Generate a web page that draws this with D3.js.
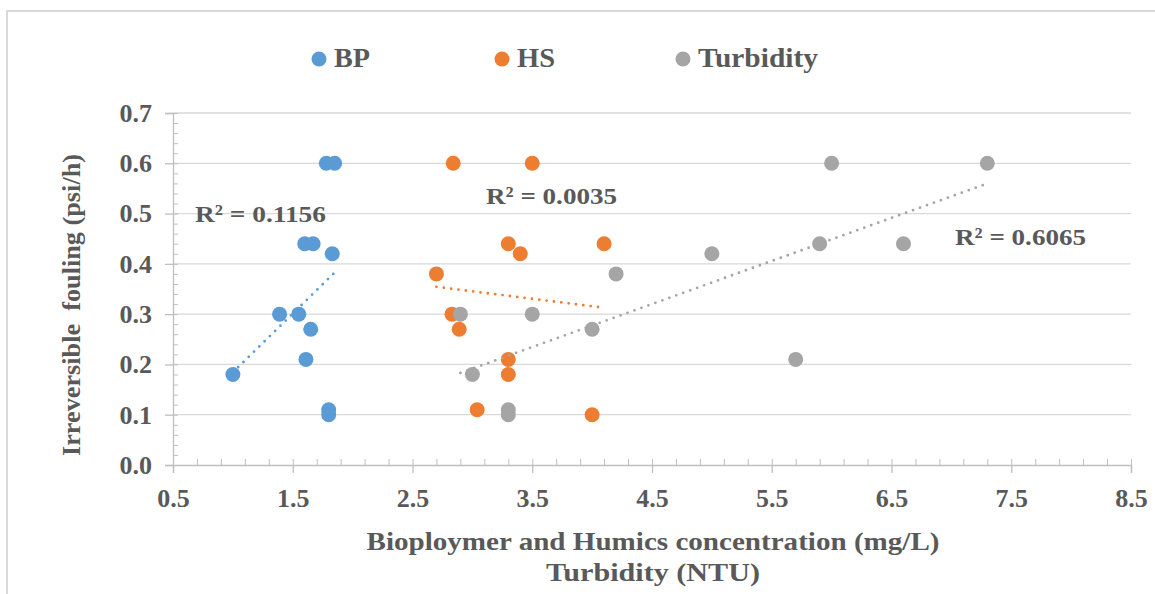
<!DOCTYPE html>
<html>
<head>
<meta charset="utf-8">
<script src="https://cdn.jsdelivr.net/npm/d3@7"></script>
<style>
  html, body { margin: 0; padding: 0; background: #ffffff; }
</style>
</head>
<body>
<svg id="chart" width="1155" height="594"></svg>
<script>
// Series: x = concentration (mg/L) or turbidity (NTU), y = irreversible fouling (psi/h)
const bpX = [1.78, 1.85, 1.60, 1.67, 1.83, 1.39, 1.55, 1.65, 1.61, 1.00, 1.80, 1.80];
const bpY = [0.60, 0.60, 0.44, 0.44, 0.42, 0.30, 0.30, 0.27, 0.21, 0.18, 0.11, 0.10];

const hsX = [2.84, 3.50, 3.30, 3.40, 4.10, 2.70, 2.83, 2.89, 3.30, 3.30, 3.04, 4.00];
const hsY = [0.60, 0.60, 0.44, 0.42, 0.44, 0.38, 0.30, 0.27, 0.21, 0.18, 0.11, 0.10];

const turbX = [2.9, 3.5, 4.2, 4.0, 3.0, 3.3, 3.3, 5.0, 5.7, 5.9, 6.6, 6.0, 7.3];
const turbY = [0.30, 0.30, 0.38, 0.27, 0.18, 0.11, 0.10, 0.42, 0.21, 0.44, 0.44, 0.60, 0.60];

const seriesNames = ["BP", "HS", "Turbidity"];
const seriesColors = ["#5B9BD5", "#ED7D31", "#A5A5A5"];
const rSquaredLabels = ["R² = 0.1156", "R² = 0.0035", "R² = 0.6065"];

const xTicks = [0.5, 1.5, 2.5, 3.5, 4.5, 5.5, 6.5, 7.5, 8.5];
const yTicks = [0.0, 0.1, 0.2, 0.3, 0.4, 0.5, 0.6, 0.7];

const xTitleLines = ["Bioploymer and Humics concentration (mg/L)", "Turbidity (NTU)"];
const yTitle = "Irreversible  fouling (psi/h)";

const FONT = "'Liberation Serif'";
const TEXT_COLOR = "#595959";
const svg = d3.select("#chart");

function styleText(sel, size) {
  return sel
    .style("font-family", FONT)
    .style("font-weight", "bold")
    .style("font-size", size + "px")
    .attr("fill", TEXT_COLOR);
}

// Chart frame
svg.append("path")
  .attr("d", "M7,600 L7,11 L1160,11")
  .attr("fill", "none")
  .attr("stroke", "#d9d9d9")
  .attr("stroke-width", 2);

const x = d3.scaleLinear().domain([0.5, 8.5]).range([173, 1131]);
const y = d3.scaleLinear().domain([0, 0.7]).range([465, 113]);

// Horizontal gridlines
svg.append("g")
  .selectAll("line")
  .data(yTicks.filter(v => v > 0))
  .join("line")
  .attr("x1", x(0.5)).attr("x2", x(8.5))
  .attr("y1", d => y(d)).attr("y2", d => y(d))
  .attr("stroke", "#d9d9d9")
  .attr("stroke-width", 1.3);

const axisColor = "#bfbfbf";

// Minor ticks: y every 0.02 (to the right), x every 0.2 (upward)
const yMinor = d3.range(0, 0.7001, 0.02);
const xMinor = d3.range(0.5, 8.5001, 0.2);
const yMinorAxis = svg.append("g")
  .attr("transform", `translate(${x(0.5)},0)`)
  .call(d3.axisRight(y).tickValues(yMinor).tickSize(5).tickFormat(""));
const xMinorAxis = svg.append("g")
  .attr("transform", `translate(0,${y(0)})`)
  .call(d3.axisTop(x).tickValues(xMinor).tickSize(6).tickFormat(""));
[yMinorAxis, xMinorAxis].forEach(g => {
  g.select(".domain").remove();
  g.selectAll("line").attr("stroke", axisColor);
});

// Major axes
const yAxis = svg.append("g")
  .attr("transform", `translate(${x(0.5)},0)`)
  .call(d3.axisLeft(y).tickValues(yTicks).tickFormat(d3.format(".1f")).tickSize(8).tickPadding(13));
const xAxis = svg.append("g")
  .attr("transform", `translate(0,${y(0)})`)
  .call(d3.axisBottom(x).tickValues(xTicks).tickFormat(d3.format(".1f")).tickSize(8).tickPadding(16));
[yAxis, xAxis].forEach(g => {
  g.attr("font-family", null);
  g.select(".domain").attr("stroke", axisColor).attr("stroke-width", 1.3);
  g.selectAll(".tick line").attr("stroke", axisColor).attr("stroke-width", 1.3);
  styleText(g.selectAll(".tick text"), 26);
});

// Markers
const series = [
  { xs: bpX, ys: bpY },
  { xs: hsX, ys: hsY },
  { xs: turbX, ys: turbY }
];
series.forEach((s, i) => {
  svg.append("g")
    .selectAll("circle")
    .data(s.xs.map((v, k) => [v, s.ys[k]]))
    .join("circle")
    .attr("cx", d => x(d[0]))
    .attr("cy", d => y(d[1]))
    .attr("r", 7.5)
    .attr("fill", seriesColors[i]);
});

// Linear least-squares trendlines (dotted), spanning each series' x range
function fit(xs, ys) {
  const mx = d3.mean(xs), my = d3.mean(ys);
  let sxy = 0, sxx = 0;
  xs.forEach((v, k) => { sxy += (v - mx) * (ys[k] - my); sxx += (v - mx) * (v - mx); });
  const b = sxy / sxx;
  return v => my + b * (v - mx);
}
series.forEach((s, i) => {
  const f = fit(s.xs, s.ys);
  const [x0, x1] = d3.extent(s.xs);
  svg.append("line")
    .attr("x1", x(x0)).attr("y1", y(f(x0)))
    .attr("x2", x(x1)).attr("y2", y(f(x1)))
    .attr("stroke", seriesColors[i])
    .attr("stroke-width", 2.8)
    .attr("stroke-linecap", "round")
    .attr("stroke-dasharray", "0 7.4");
});

// R² labels
const rPos = [[195, 222], [486, 204], [955, 245]];
styleText(svg.append("g")
  .selectAll("text")
  .data(rSquaredLabels)
  .join("text")
  .attr("x", (d, i) => rPos[i][0])
  .attr("y", (d, i) => rPos[i][1])
  .attr("textLength", 131)
  .attr("lengthAdjust", "spacingAndGlyphs")
  .text(d => d), 24);

// Legend
const legendX = [319, 502, 683];
const legendWidths = [36, 38, 120];
const legend = svg.append("g");
seriesNames.forEach((name, i) => {
  legend.append("circle")
    .attr("cx", legendX[i]).attr("cy", 59).attr("r", 7.5)
    .attr("fill", seriesColors[i]);
  styleText(legend.append("text")
    .attr("x", legendX[i] + 15).attr("y", 67)
    .attr("textLength", legendWidths[i])
    .attr("lengthAdjust", "spacingAndGlyphs")
    .text(name), 27);
});

// Axis titles
const xTitleWidths = [573, 214];
styleText(svg.append("g")
  .selectAll("text")
  .data(xTitleLines)
  .join("text")
  .attr("x", 653)
  .attr("y", (d, i) => 550 + i * 31)
  .attr("text-anchor", "middle")
  .attr("textLength", (d, i) => xTitleWidths[i])
  .attr("lengthAdjust", "spacingAndGlyphs")
  .text(d => d), 25);

styleText(svg.append("text")
  .attr("transform", "translate(80,305) rotate(-90)")
  .attr("text-anchor", "middle")
  .attr("textLength", 302)
  .attr("lengthAdjust", "spacingAndGlyphs")
  .style("white-space", "pre")
  .text(yTitle), 25);
</script>
</body>
</html>
